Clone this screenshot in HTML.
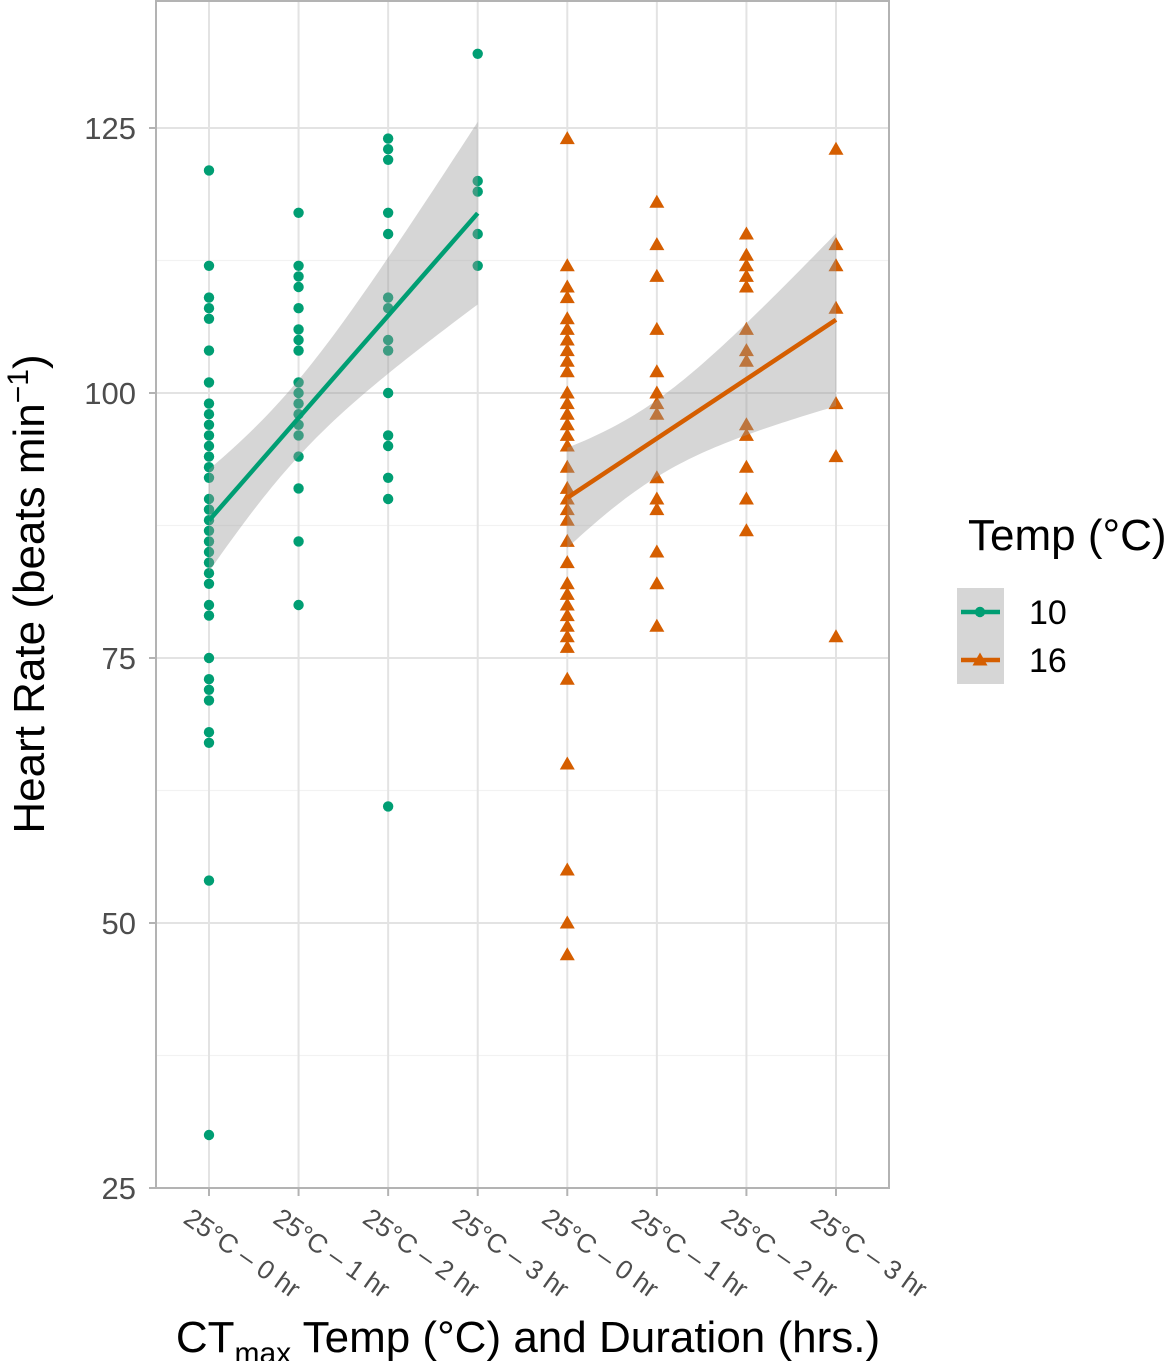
<!DOCTYPE html>
<html><head><meta charset="utf-8"><style>
html,body{margin:0;padding:0;background:#fff}
svg{display:block;font-family:"Liberation Sans",Arial,sans-serif}
</style></head><body>
<svg id="chart" width="1173" height="1361" viewBox="0 0 1173 1361"></svg>
<script>
const categories = ["25°C – 0 hr","25°C – 1 hr","25°C – 2 hr","25°C – 3 hr","25°C – 0 hr","25°C – 1 hr","25°C – 2 hr","25°C – 3 hr"];
const yTicks = [25,50,75,100,125];
const yMinor = [37.5,62.5,87.5,112.5];
const series10 = [
 [121,112,109,108,107,104,101,99,98,97,96,95,94,93,92,90,89,88,87,86,85,84,83,82,80,79,75,73,72,71,68,67,54,30],
 [117,112,111,110,108,106,105,104,101,100,99,98,97,96,94,91,86,80],
 [124,123,122,117,115,109,108,105,104,100,96,95,92,90,61],
 [132,120,119,115,112]
];
const series16 = [
 [124,112,110,109,107,106,105,104,103,102,100,99,98,97,96,95,93,91,90,89,88,86,84,82,81,80,79,78,77,76,73,65,55,50,47],
 [118,114,111,106,102,100,99,98,92,90,89,85,82,78],
 [115,113,112,111,110,106,104,103,97,96,93,90,87],
 [123,114,112,108,99,94,77]
];
const legendLabels = ["10","16"];

const NS="http://www.w3.org/2000/svg";
const svg=document.getElementById('chart');
const L=156,R=889,T=0,B=1188;
const yMin=25, yMax=25+(B-T)/10.6;
const y=v=>B-(v-yMin)*(B-T)/(yMax-yMin);
const x=i=>209+i*89.57;
function mk(tag,attrs,parent){const e=document.createElementNS(NS,tag);for(const k in attrs)e.setAttribute(k,attrs[k]);(parent||svg).appendChild(e);return e;}
const GREEN="#009E73",ORANGE="#D55E00";

yMinor.forEach(v=>{const l=mk('line',{x1:L,x2:R,y1:y(v),y2:y(v),stroke:'#f2f2f2','stroke-width':1.2});

});
yTicks.forEach(v=>{const l=mk('line',{x1:L,x2:R,y1:y(v),y2:y(v),stroke:'#e3e3e3','stroke-width':2});

});
categories.forEach((c,i)=>{const l=mk('line',{x1:x(i),x2:x(i),y1:T,y2:B,stroke:'#e3e3e3','stroke-width':2});

});

function drawPoints(series,offset,shape,color){
 series.forEach((arr,gi)=>{arr.forEach(v=>{
  const cx=x(gi+offset),cy=y(v);let e;
  if(shape==='circle'){e=mk('circle',{cx:cx,cy:cy,r:5.2,fill:color});}
  else{e=mk('polygon',{points:`${cx},${cy-7.5} ${cx-7.5},${cy+5.5} ${cx+7.5},${cy+5.5}`,fill:color});}
  
  
 });});
}
drawPoints(series10,0,'circle',GREEN);
drawPoints(series16,4,'tri',ORANGE);

function fit(series,offset,color,name){
 const xs=[],ys=[];series.forEach((a,i)=>a.forEach(v=>{xs.push(i);ys.push(v);}));
 const n=xs.length,mx=xs.reduce((a,b)=>a+b)/n,my=ys.reduce((a,b)=>a+b)/n;
 let sxx=0,sxy=0;for(let i=0;i<n;i++){sxx+=(xs[i]-mx)**2;sxy+=(xs[i]-mx)*(ys[i]-my);}
 const b=sxy/sxx,a=my-b*mx;let sse=0;for(let i=0;i<n;i++)sse+=(ys[i]-a-b*xs[i])**2;
 const s=Math.sqrt(sse/(n-2)),t=1.96+2.4/(n-2);
 const up=[],lo=[];
 for(let k=0;k<=60;k++){const xv=3*k/60;const se=s*Math.sqrt(1/n+(xv-mx)**2/sxx);const f=a+b*xv;
  up.push([x(xv+offset),y(Math.min(f+t*se,yMax))]);lo.push([x(xv+offset),y(f-t*se)]);}
 const pts=up.concat(lo.reverse()).map(p=>p.join(',')).join(' ');
 const band=mk('polygon',{points:pts,fill:'#999999','fill-opacity':0.4});
 
 
 const ln=mk('line',{x1:x(offset),y1:y(a),x2:x(offset+3),y2:y(a+3*b),stroke:color,'stroke-width':4.5});
 
 
}
fit(series10,0,GREEN,'temp-10');
fit(series16,4,ORANGE,'temp-16');

const border=mk('rect',{x:L,y:T+1,width:R-L,height:B-T-1,fill:'none',stroke:'#b3b3b3','stroke-width':2});



yTicks.forEach(v=>{
 const tk=mk('line',{x1:L-7,x2:L,y1:y(v),y2:y(v),stroke:'#b3b3b3','stroke-width':2});
 
 
 const t=mk('text',{x:136,y:y(v)+11,'text-anchor':'end','font-size':31,fill:'#4d4d4d'});t.textContent=v;
 
 
});
categories.forEach((c,i)=>{
 const tk=mk('line',{x1:x(i),x2:x(i),y1:B,y2:B+8,stroke:'#b3b3b3','stroke-width':2});
 
 
 const tx=x(i)-27,ty=1222;
 const t=mk('text',{x:tx,y:ty,'font-size':26.5,fill:'#4d4d4d',transform:`rotate(35 ${tx} ${ty})`});t.textContent=c;
 
 
});

const yt=mk('text',{x:0,y:0,'font-size':44,fill:'#000','text-anchor':'middle',transform:'translate(44 594) rotate(-90)'});
yt.innerHTML='Heart Rate (beats min<tspan dy="-16" font-size="30">−1</tspan><tspan dy="16">)</tspan>';


const xt=mk('text',{x:528,y:1352,'font-size':44,fill:'#000','text-anchor':'middle'});
xt.innerHTML='CT<tspan dy="11" font-size="30">max</tspan><tspan dy="-11"> Temp (°C) and Duration (hrs.)</tspan>';



const lg=mk('g',{});


const lt=mk('text',{x:968,y:550,'font-size':44,fill:'#000'},lg);lt.textContent='Temp (°C)';


const lbg=mk('rect',{x:957,y:588,width:47,height:96,fill:'#d6d6d6'},lg);


legendLabels.forEach((lab,i)=>{
 const cy=612+i*48,col=i?ORANGE:GREEN;
 const g=mk('g',{},lg);
 
 
 mk('line',{x1:961,x2:1000,y1:cy,y2:cy,stroke:col,'stroke-width':4.5},g);
 if(i)mk('polygon',{points:`980,${cy-7.5} 972.5,${cy+5.5} 987.5,${cy+5.5}`,fill:col},g);
 else mk('circle',{cx:980,cy:cy,r:5.2,fill:col},g);
 const t=mk('text',{x:1029,y:cy+12,'font-size':34,fill:'#000'},g);t.textContent=lab;
});
</script>
</body></html>
